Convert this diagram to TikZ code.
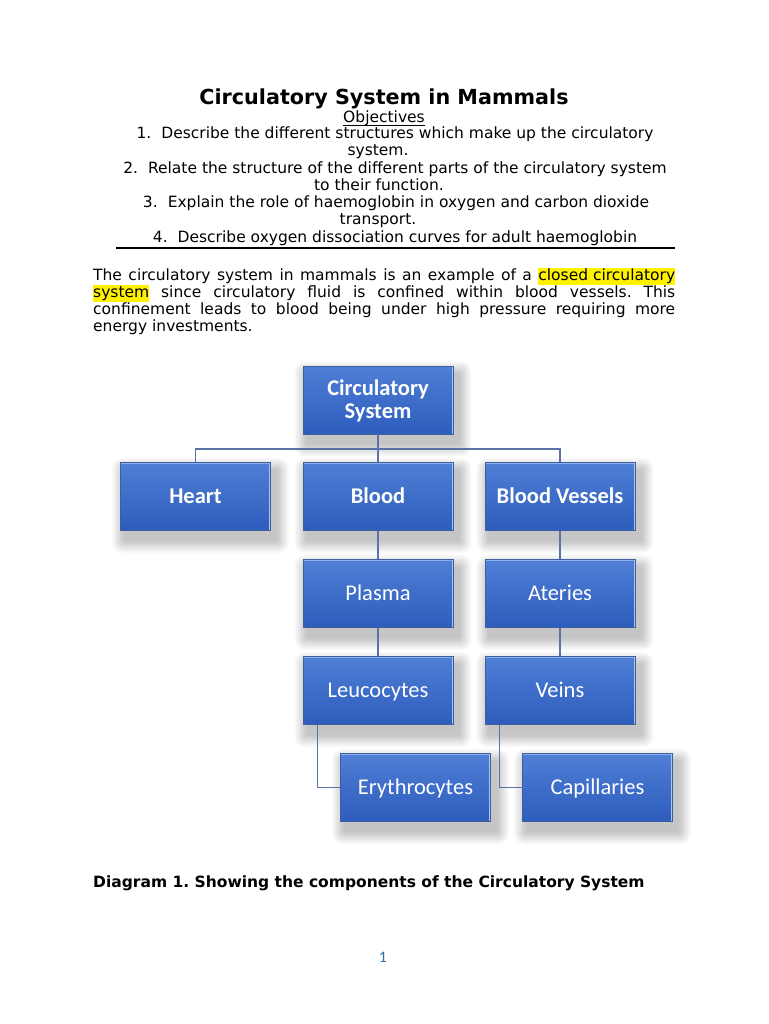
\documentclass[tikz,border=0pt]{standalone}
\usepackage{fontspec}
\setmainfont{DejaVu Sans}
\newfontfamily\boxfont{Carlito}
\usetikzlibrary{positioning,backgrounds}
\frenchspacing
\definecolor{boxtop}{HTML}{4F7FD6}
\definecolor{boxbot}{HTML}{2D5CBC}
\definecolor{boxedge}{HTML}{3F5E9E}
\definecolor{boxlight}{HTML}{A9C6F2}
\definecolor{linkcol}{HTML}{5A73A6}
\definecolor{pagenum}{HTML}{2E6DA4}
\newcommand\hlt[1]{{\setlength{\fboxsep}{0pt}\colorbox{yellow}{\strut #1}}}
\tikzset{
  orgbox/.style={rectangle, minimum width=150pt, minimum height=68pt, inner sep=0pt,
    top color=boxtop, bottom color=boxbot, draw=boxedge, line width=0.8pt,
    text=white, align=center, text height=14.5pt, text depth=0pt,
    font=\boxfont\fontsize{22.5pt}{23pt}\selectfont,
    path picture={
      \draw[boxlight, line width=2.4pt, opacity=.7]
        (path picture bounding box.north west) -- (path picture bounding box.north east);
      \draw[boxlight, line width=2.4pt]
        (path picture bounding box.north east) -- (path picture bounding box.south east);
    }},
  headbox/.style={orgbox, font=\boxfont\bfseries\fontsize{22.5pt}{23pt}\selectfont},
  link/.style={draw=linkcol, line width=1.3pt},
  txt/.style={inner sep=0pt, font=\fontsize{15.5pt}{17.3pt}\selectfont}
}
\begin{document}
\begin{tikzpicture}[x=1pt,y=-1pt]
\useasboundingbox (0,0) rectangle (768,1024);
% heading and objectives
\node[txt, font=\bfseries\fontsize{20.7pt}{24pt}\selectfont, anchor=base] (title) at (384,105) {Circulatory System in Mammals};
\node[txt, anchor=base] (obj) at (384,123) {Objectives};
\draw[line width=0.8pt] ([yshift=-2pt]obj.base west) -- ([yshift=-2pt]obj.base east);
\node[txt, anchor=base] (obj1) at (395,139) {1.\hspace{10pt}Describe the different structures which make up the circulatory};
\node[txt, anchor=base] (obj1b) at (378,156) {system.};
\node[txt, anchor=base] (obj2) at (395,174) {2.\hspace{10pt}Relate the structure of the different parts of the circulatory system};
\node[txt, anchor=base] (obj2b) at (379,191) {to their function.};
\node[txt, anchor=base] (obj3) at (396,208) {3.\hspace{10pt}Explain the role of haemoglobin in oxygen and carbon dioxide};
\node[txt, anchor=base] (obj3b) at (378,225) {transport.};
\node[txt, anchor=base] (obj4) at (395,243) {4.\hspace{10pt}Describe oxygen dissociation curves for adult haemoglobin};
\draw[line width=1.6pt] (116,248) -- (675,248);
% paragraph
\node[txt, anchor=base west] (par1) at (93,280) {\makebox[582pt][s]{The circulatory system in mammals is an example of a \hlt{closed circulatory}}};
\node[txt, anchor=base west] (par2) at (93,297) {\makebox[582pt][s]{\hlt{system} since circulatory fluid is confined within blood vessels. This}};
\node[txt, anchor=base west] (par3) at (93,314) {\makebox[582pt][s]{confinement leads to blood being under high pressure requiring more}};
\node[txt, anchor=base west] (par4) at (93,331) {energy investments.};
% chart
\node[headbox, text height=37.5pt] (circ) at (378,400) {Circulatory\\System};
\node[headbox] (heart) at (195.5,496.5) {Heart};
\node[headbox] (blood) at (378,496.5) {Blood};
\node[headbox] (vessels) at (560,496.5) {Blood Vessels};
\node[orgbox] (plasma) at (378,593.5) {Plasma};
\node[orgbox] (ateries) at (560,593.5) {Ateries};
\node[orgbox] (leuco) at (378,690.5) {Leucocytes};
\node[orgbox] (veins) at (560,690.5) {Veins};
\node[orgbox] (ery) at (415.5,787.5) {Erythrocytes};
\node[orgbox] (cap) at (597.5,787.5) {Capillaries};
\begin{scope}[on background layer]
\fill[white] (0,0) rectangle (768,1024);
% soft shadows
\foreach \b in {circ,heart,blood,vessels,plasma,ateries,leuco,veins,ery,cap}
  \foreach \k in {1,...,10}
    \fill[black, opacity=0.022, rounded corners=\k pt] ([shift={(5-1.3*\k,9-1.3*\k)}]\b.north west) rectangle ([shift={(5+1.3*\k,9+1.3*\k)}]\b.south east);
\end{scope}
\coordinate (bus) at (378,449);
\draw[link] (circ.south) -- (blood.north);
\draw[link] (heart.north) |- (bus) -| (vessels.north);
\draw[link] (blood.south) -- (plasma.north);
\draw[link] (plasma.south) -- (leuco.north);
\draw[link] (vessels.south) -- (ateries.north);
\draw[link] (ateries.south) -- (veins.north);
\draw[link] ([xshift=15pt]leuco.south west) |- (ery.west);
\draw[link] ([xshift=15pt]veins.south west) |- (cap.west);
% caption and page number
\node[txt, font=\bfseries\fontsize{15.5pt}{17.3pt}\selectfont, anchor=base west] (caption) at (93,887) {Diagram 1. Showing the components of the Circulatory System};
\node[txt, font=\boxfont\fontsize{16pt}{18pt}\selectfont, text=pagenum, anchor=base] (page) at (383,962) {1};
\end{tikzpicture}
\end{document}
